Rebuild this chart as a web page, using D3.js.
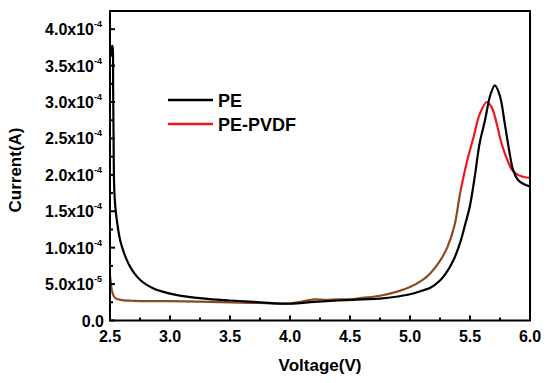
<!DOCTYPE html>
<html>
<head>
<meta charset="utf-8">
<script src="https://cdn.jsdelivr.net/npm/d3@7"></script>
<style>
  body { margin: 0; background: #fff; }
  text { font-family: "Liberation Sans", Arial, sans-serif; font-weight: bold; fill: #000; }
</style>
</head>
<body>
<svg id="chart" width="550" height="383"></svg>
<script>
// ---- data ----
const voltagePE = [2.505, 2.512, 2.518, 2.522, 2.526, 2.53, 2.534, 2.54, 2.55, 2.567, 2.585, 2.608, 2.635, 2.667, 2.7, 2.75, 2.8, 2.85, 2.9, 3.0, 3.17, 3.35, 3.5, 3.75, 4.0, 4.2, 4.4, 4.6, 4.75, 4.9, 5.0, 5.1, 5.17, 5.25, 5.3, 5.36, 5.42, 5.46, 5.5, 5.54, 5.58, 5.625, 5.67, 5.708, 5.75, 5.79, 5.83, 5.86, 5.9, 5.95, 6.0];
const currentPE = [3.62, 3.74, 3.77, 3.75, 3.2, 2.45, 1.88, 1.66, 1.47, 1.26, 1.10, 0.97, 0.85, 0.74, 0.655, 0.56, 0.495, 0.45, 0.415, 0.37, 0.32, 0.29, 0.275, 0.25, 0.23, 0.255, 0.275, 0.29, 0.30, 0.33, 0.36, 0.41, 0.45, 0.55, 0.65, 0.82, 1.08, 1.32, 1.58, 1.98, 2.43, 2.75, 3.1, 3.23, 3.08, 2.7, 2.3, 2.06, 1.93, 1.87, 1.84];
const voltagePVDF = [2.5, 2.505, 2.515, 2.53, 2.55, 2.6, 2.7, 3.0, 3.5, 3.75, 4.0, 4.1, 4.2, 4.3, 4.4, 4.5, 4.6, 4.75, 4.9, 5.0, 5.1, 5.17, 5.25, 5.31, 5.37, 5.417, 5.47, 5.53, 5.58, 5.64, 5.68, 5.72, 5.75, 5.8, 5.85, 5.9, 5.95, 6.0];
const currentPVDF = [0.62, 0.55, 0.42, 0.34, 0.30, 0.28, 0.27, 0.265, 0.25, 0.24, 0.235, 0.26, 0.29, 0.285, 0.29, 0.29, 0.31, 0.34, 0.40, 0.46, 0.55, 0.65, 0.82, 1.0, 1.3, 1.74, 2.15, 2.52, 2.83, 3.0, 2.93, 2.72, 2.51, 2.25, 2.07, 2.0, 1.97, 1.96];
const currentScale = 1e-4;
const xTicks = [2.5, 3.0, 3.5, 4.0, 4.5, 5.0, 5.5, 6.0];
const xTickLabels = ["2.5", "3.0", "3.5", "4.0", "4.5", "5.0", "5.5", "6.0"];
const yTicks = [0, 0.5e-4, 1.0e-4, 1.5e-4, 2.0e-4, 2.5e-4, 3.0e-4, 3.5e-4, 4.0e-4];
const yTickMantissa = ["0.0", "5.0", "1.0", "1.5", "2.0", "2.5", "3.0", "3.5", "4.0"];
const yTickExponent = ["", "-5", "-4", "-4", "-4", "-4", "-4", "-4", "-4"];
const seriesNames = ["PE", "PE-PVDF"];

// ---- layout ----
const svg = d3.select("#chart");
const L = 110, R = 530, T = 11, B = 320.5;
const x = d3.scaleLinear().domain([2.5, 6.0]).range([L, R]);
const y = d3.scaleLinear().domain([0, 4.25e-4]).range([B, T]);

const defs = svg.append("defs");
const grad = defs.append("linearGradient").attr("id", "redgrad")
  .attr("gradientUnits", "userSpaceOnUse").attr("x1", 0).attr("x2", 0)
  .attr("y1", y(0)).attr("y2", y(4.25e-4));
const split = 1 - (y(1.8e-4) - T) / (B - T);
grad.append("stop").attr("offset", 0).attr("stop-color", "#8a4a22");
grad.append("stop").attr("offset", split).attr("stop-color", "#8a4a22");
grad.append("stop").attr("offset", split).attr("stop-color", "#f0141e");
grad.append("stop").attr("offset", 1).attr("stop-color", "#f0141e");

const line = d3.line().curve(d3.curveCatmullRom.alpha(0.5)).x(d => x(d[0])).y(d => y(d[1]));
const dataPE = voltagePE.map((v, i) => [v, currentPE[i] * currentScale]);
const dataPVDF = voltagePVDF.map((v, i) => [v, currentPVDF[i] * currentScale]);

const clip = defs.append("clipPath").attr("id", "clip");
clip.append("rect").attr("x", L).attr("y", T).attr("width", R - L).attr("height", B - T);

const plot = svg.append("g").attr("clip-path", "url(#clip)");
plot.append("path").datum(dataPVDF).attr("d", line)
  .attr("fill", "none").attr("stroke", "url(#redgrad)").attr("stroke-width", 2.2);
plot.append("path").datum(dataPE).attr("d", line)
  .attr("fill", "none").attr("stroke", "#000").attr("stroke-width", 2.2);

// frame
svg.append("rect").attr("x", L).attr("y", T).attr("width", R - L).attr("height", B - T)
  .attr("fill", "none").attr("stroke", "#000").attr("stroke-width", 2);

// x axis ticks (inward)
const xMinor = d3.range(2.75, 6.0, 0.5);
const gx = svg.append("g");
gx.selectAll("line.maj").data(xTicks).join("line")
  .attr("x1", d => x(d)).attr("x2", d => x(d)).attr("y1", B).attr("y2", B - 5)
  .attr("stroke", "#000").attr("stroke-width", 2);
gx.selectAll("line.min").data(xMinor).join("line")
  .attr("x1", d => x(d)).attr("x2", d => x(d)).attr("y1", B).attr("y2", B - 3)
  .attr("stroke", "#000").attr("stroke-width", 2);
gx.selectAll("text").data(xTicks).join("text")
  .attr("x", d => x(d)).attr("y", 341.5).attr("text-anchor", "middle")
  .attr("font-size", 16).text((d, i) => xTickLabels[i]);

// y axis ticks (inward)
const yMinor = d3.range(0.25e-4, 4.25e-4, 0.5e-4);
const gy = svg.append("g");
gy.selectAll("line.maj").data(yTicks).join("line")
  .attr("x1", L).attr("x2", L + 5).attr("y1", d => y(d)).attr("y2", d => y(d))
  .attr("stroke", "#000").attr("stroke-width", 2);
gy.selectAll("line.min").data(yMinor).join("line")
  .attr("x1", L).attr("x2", L + 3).attr("y1", d => y(d)).attr("y2", d => y(d))
  .attr("stroke", "#000").attr("stroke-width", 2);
const yl = gy.selectAll("text").data(yTicks).join("text")
  .attr("x", d => d === 0 ? 104 : 102).attr("y", d => y(d) + 6).attr("text-anchor", "end").attr("font-size", 16);
yl.append("tspan").text((d, i) => yTickMantissa[i] + (yTickExponent[i] ? "x10" : ""));
yl.filter(d => yTickExponent[yTicks.indexOf(d)] !== "").append("tspan")
  .attr("dy", -8).attr("font-size", 9).text(d => yTickExponent[yTicks.indexOf(d)]);

// axis titles
svg.append("text").attr("x", 320).attr("y", 371).attr("text-anchor", "middle")
  .attr("font-size", 17).text("Voltage(V)");
svg.append("text").attr("transform", "translate(21,170) rotate(-90)")
  .attr("text-anchor", "middle").attr("font-size", 17).text("Current(A)");

// legend
const legColors = ["#000", "#f0141e"];
const legY = [100, 124];
seriesNames.forEach((n, i) => {
  svg.append("line").attr("x1", 168).attr("x2", 213).attr("y1", legY[i]).attr("y2", legY[i])
    .attr("stroke", legColors[i]).attr("stroke-width", 2.5);
  svg.append("text").attr("x", 218).attr("y", legY[i] + 6.5).attr("font-size", 18).text(n);
});
</script>
</body>
</html>
